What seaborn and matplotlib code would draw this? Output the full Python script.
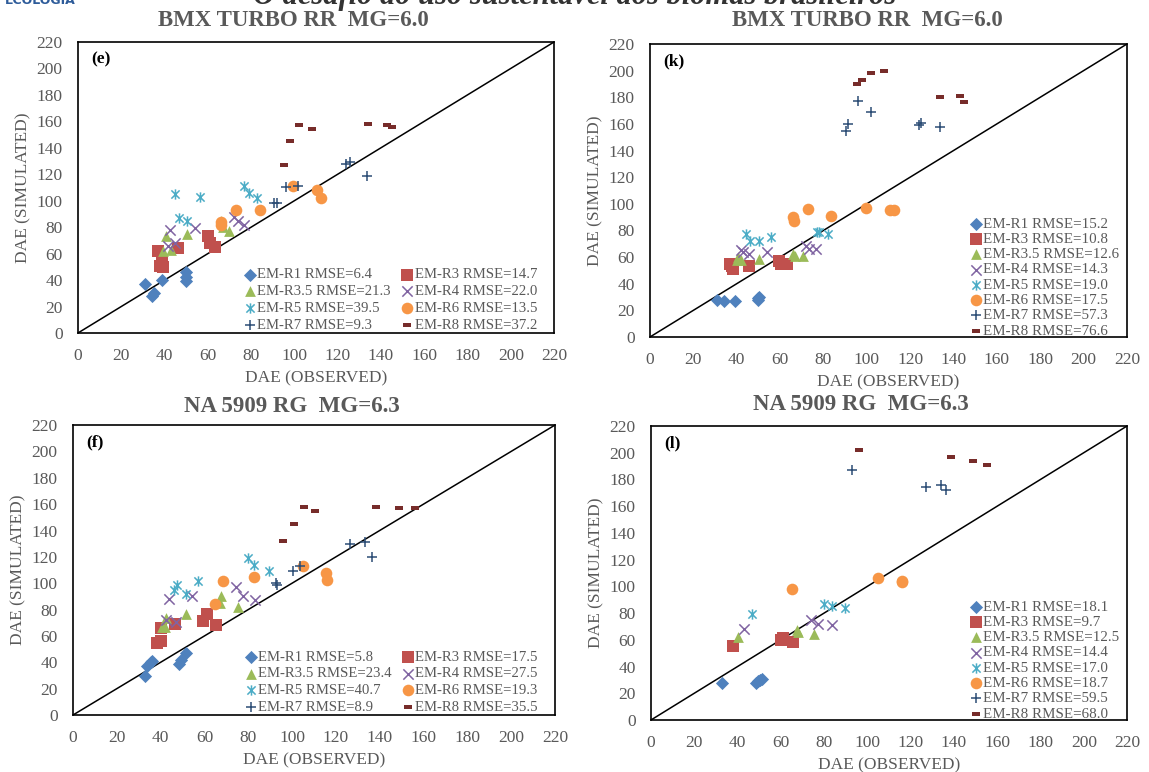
import matplotlib
matplotlib.use('Agg')
import matplotlib.pyplot as plt
import seaborn as sns
from matplotlib.path import Path

sns.set_style('white')
plt.rcParams['font.family'] = ['Liberation Serif', 'DejaVu Serif']

series = ['EM-R1', 'EM-R3', 'EM-R3.5', 'EM-R4', 'EM-R5', 'EM-R6', 'EM-R7', 'EM-R8']
colors = ['#4F81BD', '#C0504D', '#9BBB59', '#8064A2', '#4BACC6', '#F79646', '#2C4D75', '#772C2A']
ticks = list(range(0, 221, 20))

# panel (e) BMX TURBO RR
e_obs = [[31, 34, 35, 39, 50, 50, 50],
         [37, 38, 39, 39.5, 46, 60, 61, 63.5],
         [40.5, 39.5, 43, 50.5, 66, 67, 70],
         [42.5, 41.5, 45, 54, 72, 74, 76.5],
         [45, 56.5, 46.5, 50.5, 76.5, 79, 82.5],
         [66, 66, 73, 84, 99.5, 110.5, 112.5],
         [90.5, 92, 96, 101.5, 124, 125.5, 133.5],
         [95, 98, 102, 108, 134, 143, 145]]
e_sim = [[37, 28, 30, 40, 46, 42, 39],
         [62, 51, 54, 50, 64, 73, 68, 65],
         [73, 62, 63, 75, 85, 80, 77],
         [78, 66, 68, 79, 88, 85, 82],
         [105, 103, 87, 85, 111, 106, 102],
         [84, 82, 93, 93, 111, 108, 102],
         [98, 98, 110, 111, 128, 129, 119],
         [127, 145, 157, 154, 158, 157, 156]]
e_rmse = [6.4, 14.7, 21.3, 22.0, 39.5, 13.5, 9.3, 37.2]

# panel (k) BMX TURBO RR
k_obs = [[31, 34, 39, 50, 50.5, 50],
         [37, 38.5, 38, 45.5, 59.5, 60.5, 63],
         [40.5, 40, 42, 50.5, 66, 67, 70.5],
         [42, 43, 45.5, 54, 72, 73.5, 76.5],
         [44.5, 46, 50.5, 56, 77, 78, 82],
         [66, 66.5, 73, 83.5, 99.5, 110.5, 112.5],
         [90.5, 91.5, 96, 102, 124, 125, 134],
         [95.5, 98, 102, 108, 134, 143, 145]]
k_sim = [[28, 27, 27, 28, 30, 29],
         [55, 51, 53, 53, 57, 55, 55],
         [60, 57.5, 58, 58.5, 62, 60.5, 60.5],
         [65, 64, 62, 64, 68, 66, 66],
         [77, 72, 72, 75, 79, 78.5, 77],
         [90, 87, 96, 91, 97, 95, 95],
         [155, 160, 177, 169, 159, 161, 158],
         [190, 193, 198, 200, 180, 181, 176.5]]
k_rmse = [15.2, 10.8, 12.6, 14.3, 19.0, 17.5, 57.3, 76.6]

# panel (f) NA 5909 RG
f_obs = [[33, 34, 35.5, 36, 48.5, 49.5, 51.5],
         [38.5, 40, 40, 46.5, 59.5, 61, 65.5],
         [40.5, 42.5, 42, 51.5, 67.5, 67, 75.5],
         [44, 42.5, 47, 54.5, 74.5, 77.5, 83],
         [47.5, 46, 51.5, 57, 80, 82.5, 89.5],
         [65, 68.5, 82.5, 105, 115.5, 116],
         [92.5, 93, 100.5, 103.5, 126.5, 133.5, 136.5],
         [96, 101, 105.5, 110.5, 138.5, 149, 156]]
f_sim = [[29.5, 37, 40, 41, 39, 42, 47],
         [55, 56, 66, 69, 71, 77, 68],
         [67, 73.5, 67, 77, 90.5, 85, 82],
         [88, 72, 70.5, 90.5, 97, 90, 87],
         [99, 95, 92, 102, 119, 114, 109],
         [84, 102, 105, 113, 108, 102.5],
         [100, 99, 109, 113, 129.5, 131, 120],
         [132, 145, 158, 155, 158, 157, 157]]
f_rmse = [5.8, 17.5, 23.4, 27.5, 40.7, 19.3, 8.9, 35.5]

# panel (l) NA 5909 RG
l_obs = [[33, 48.5, 49.5, 50.5, 51.5],
         [38, 60, 61, 65.5],
         [40, 67.5, 68, 75.5],
         [43, 74, 77, 83.5],
         [46.5, 80, 83.5, 89.5],
         [65, 105, 116, 116],
         [93, 127, 134, 136.5],
         [96, 138.5, 149, 155.5]]
l_sim = [[28, 28, 29, 30, 31],
         [55.5, 60, 61.5, 58],
         [62, 67, 66, 64],
         [68, 75, 72, 71],
         [79, 87, 85, 83.5],
         [98, 106, 103, 104],
         [187, 174, 176, 172],
         [202, 197, 194, 191]]
l_rmse = [18.1, 9.7, 12.5, 14.4, 17.0, 18.7, 59.5, 68.0]

star = Path([(-1, -1), (1, 1), (-1, 1), (1, -1), (0, -1.25), (0, 1.25)],
            [Path.MOVETO, Path.LINETO, Path.MOVETO, Path.LINETO, Path.MOVETO, Path.LINETO])
dash = Path([(-1, -0.45), (1, -0.45), (1, 0.45), (-1, 0.45), (-1, -0.45)],
            [Path.MOVETO, Path.LINETO, Path.LINETO, Path.LINETO, Path.CLOSEPOLY])
markers = ['D', 's', '^', 'x', star, 'o', '+', dash]
sizes = [45, 65, 60, 55, 55, 70, 60, 38]
line_marker = [False, False, False, True, True, False, True, False]

gray = '#595959'
fig = plt.figure(figsize=(11.49, 7.72), dpi=100)


def panel(rect, obs, sim, rmse, tag, two_col):
    ax = fig.add_axes(rect)
    ax.plot([0, 220], [0, 220], color='black', lw=1.1, zorder=1)
    for i in range(len(series)):
        kw = dict(x=obs[i], y=sim[i], ax=ax, marker=markers[i], color=colors[i],
                  s=sizes[i], label=f'{series[i]} RMSE={rmse[i]}', zorder=3)
        if line_marker[i]:
            kw.update(edgecolor=colors[i], linewidth=1.1)
        else:
            kw.update(linewidth=0)
        sns.scatterplot(**kw)
    ax.set_xlim(0, 220)
    ax.set_ylim(0, 220)
    ax.set_xticks(ticks)
    ax.set_yticks(ticks)
    ax.tick_params(labelsize=12.5, labelcolor=gray, length=0)
    ax.tick_params(axis='x', pad=10.5)
    ax.tick_params(axis='y', pad=11)
    for sp in ax.spines.values():
        sp.set_color('black')
        sp.set_linewidth(1.2)
    ax.set_xlabel('DAE (OBSERVED)', fontsize=12.5, color=gray, labelpad=5)
    ax.set_ylabel('DAE (SIMULATED)', fontsize=12.5, color=gray, labelpad=4)
    ax.text(0.027, 0.968, tag, transform=ax.transAxes, fontsize=12.5, fontweight='bold',
            va='top', ha='left', color='black')
    h, lab = ax.get_legend_handles_labels()
    if two_col:
        order = [0, 2, 4, 6, 1, 3, 5, 7]
        ax.legend([h[j] for j in order], [lab[j] for j in order], ncol=2, loc='lower right',
                  bbox_to_anchor=(0.98, -0.022), frameon=False, fontsize=10.6,
                  labelcolor=gray, handletextpad=0.0, columnspacing=0.6,
                  labelspacing=0.24, handlelength=1.0, borderaxespad=0.1)
    else:
        ax.legend(h, lab, ncol=1, loc='lower right', bbox_to_anchor=(1.0, -0.028),
                  frameon=False, fontsize=10.8, labelcolor=gray, handletextpad=0.0,
                  labelspacing=0.12, handlelength=1.0, borderaxespad=0.1)
    return ax


panel([0.0679, 0.5687, 0.4143, 0.3769], e_obs, e_sim, e_rmse, '(e)', True)
panel([0.5657, 0.5635, 0.4151, 0.3795], k_obs, k_sim, k_rmse, '(k)', False)
panel([0.0635, 0.0738, 0.4195, 0.3756], f_obs, f_sim, f_rmse, '(f)', True)
panel([0.5666, 0.0674, 0.4143, 0.3808], l_obs, l_sim, l_rmse, '(l)', False)

title_kw = dict(fontsize=16.5, fontweight='bold', color=gray, ha='center', va='center')
fig.text(293 / 1149, 1 - 21 / 772, 'BMX TURBO RR  MG=6.0', **title_kw)
fig.text(867 / 1149, 1 - 21 / 772, 'BMX TURBO RR  MG=6.0', **title_kw)
fig.text(292 / 1149, 1 - 406 / 772, 'NA 5909 RG  MG=6.3', **title_kw)
fig.text(861 / 1149, 1 - 405 / 772, 'NA 5909 RG  MG=6.3', **title_kw)

# clipped page header above the charts
fig.text(0.5, 1.004, 'O desafio do uso sustentável dos biomas brasileiros', fontsize=22,
         fontstyle='italic', fontweight='bold', color='#333333', ha='center', va='center')
fig.text(0.004, 1.0, 'ECOLOGIA', fontsize=9, fontweight='bold', color='#2E5C9A',
         ha='left', va='center', family='DejaVu Sans')

fig.savefig('out.png', dpi=100)
